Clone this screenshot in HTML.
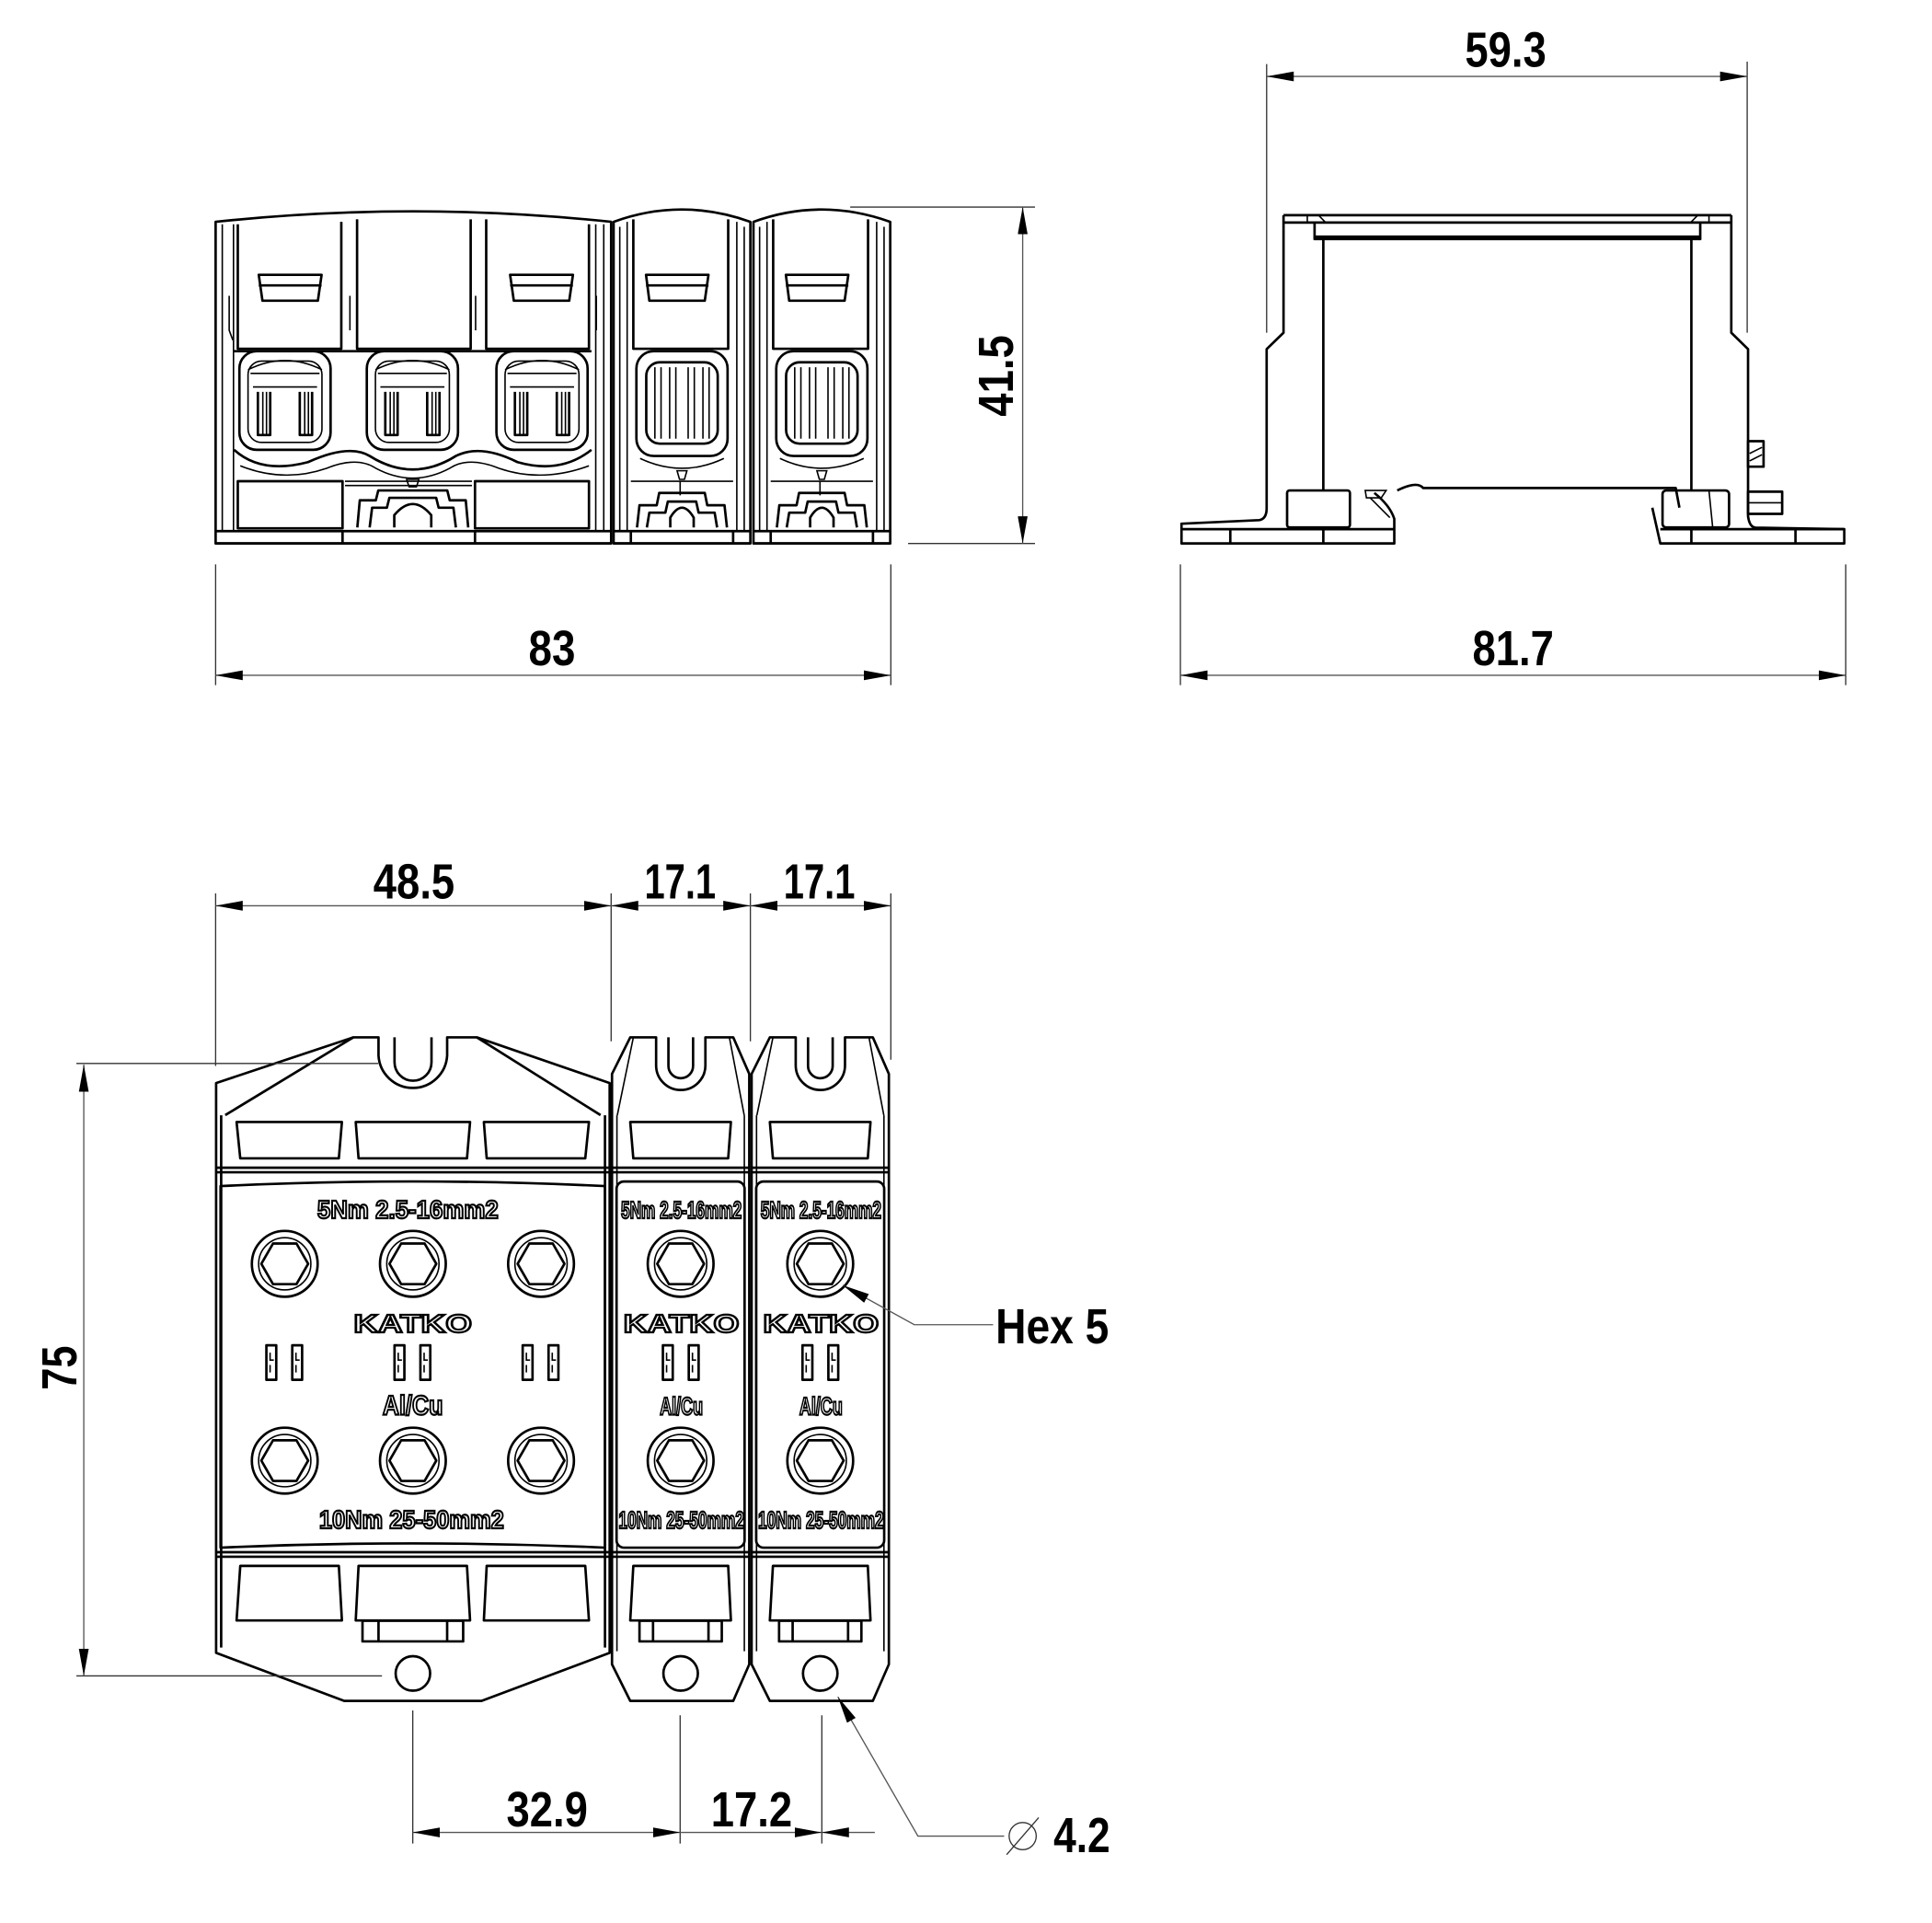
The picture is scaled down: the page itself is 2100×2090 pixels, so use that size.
<!DOCTYPE html>
<html><head><meta charset="utf-8"><style>
html,body{margin:0;padding:0;background:#fff}
svg{display:block}
.o{fill:none;stroke:#000;stroke-width:2;stroke-linejoin:round}
.t{fill:none;stroke:#000;stroke-width:1.2}
.d{fill:none;stroke:#555;stroke-width:1}
.e{fill:none;stroke:#333;stroke-width:1}
.lb{font-family:"Liberation Sans Narrow","Liberation Sans",sans-serif;font-weight:bold;font-size:40px;fill:#000}
.pt{font-family:"Liberation Sans Narrow","Liberation Sans",sans-serif;font-weight:bold;fill:#fff;stroke:#000;stroke-width:1.6}
</style></head><body>
<svg width="2100" height="2090" viewBox="0 0 1568 1560.5" xmlns="http://www.w3.org/2000/svg">
<defs>
<g id="bolt"><circle r="26.7" class="o"/><circle r="21.2" class="t"/><polygon points="-19,0 -9.5,-16.5 9.5,-16.5 19,0 9.5,16.5 -9.5,16.5" class="o"/></g>
<g id="slot"><rect x="0" y="0" width="8" height="28" class="o"/><path d="M3,6 v6 h3 M3,16 v6" class="t"/></g>
<g id="slots"><use href="#slot" x="0" y="0"/><use href="#slot" x="21" y="0"/></g>
<g id="term">
<rect x="-37" y="285" width="74" height="80" rx="14" class="o"/>
<rect x="-30" y="293" width="60" height="66" rx="11" class="t"/>
<path d="M-30,300 Q0,285 30,300 M-28,303 h56 M-26,314 h52" class="t"/>
<path d="M-22,318 v35 h10 v-35 M12,318 v35 h10 v-35" class="o"/>
<path d="M-18,318 v35 M-15,318 v35 M16,318 v35 M19,318 v35" class="t"/>
</g>
<g id="sterm">
<rect x="-37" y="285" width="74" height="85" rx="14" class="o"/>
<rect x="-29" y="294" width="58" height="66" rx="11" class="o"/>
<path d="M-22,298 v58 M-17,298 v58 M-10,298 v58 M-5,298 v58 M5,298 v58 M10,298 v58 M17,298 v58 M22,298 v58" class="t"/>
<path d="M-34,372 Q0,388 34,372 M-4,382 h8 l-2,7 h-4 z" class="t"/>
</g>
<marker id="ar" viewBox="0 0 22 8" refX="22" refY="4" markerWidth="22" markerHeight="8" markerUnits="userSpaceOnUse" orient="auto-start-reverse"><path d="M0,0 L22,4 L0,8 Z" fill="#000"/></marker>
</defs>

<!-- ============ FRONT VIEW ============ -->
<path d="M175,441 V180 Q335,163 496,180 V441 Z" class="o"/>
<path d="M180.4,182 V431 M189.5,182 V431 M483.5,182 V431 M490,182 V431" class="t"/>
<path d="M193,182 V283 H277 V180 M289.8,178 V283 H382 V178 M394.6,178 V283 H478 V182" class="o"/>
<path d="M277,180 V283 M289.8,178 V283" class="t"/>
<path d="M186,240 v28 l3,8 M284,240 v28 M386,240 v28 M484,240 v28" class="t"/>
<g class="o"><path d="M210,223 H261 L258,244 H213 Z M210,231.6 H261"/><path d="M414,223 H465 L462,244 H417 Z M414,231.6 H465"/></g>
<path d="M190,285 H480" class="o"/>
<use href="#term" x="231.3" y="0"/>
<use href="#term" x="334.7" y="0"/>
<use href="#term" x="439.9" y="0"/>
<path d="M190,365 Q212,385 250,375 Q283,360 300,370 Q335,392 370,370 Q390,360 420,375 Q455,385 480,365" class="o"/>
<path d="M195,378 Q230,392 265,380 Q290,370 305,380 Q335,396 365,380 Q380,370 405,380 Q440,392 478,378" class="t"/>
<path d="M330,389 h10 l-2,6 h-6 z" class="t"/>
<path d="M193,390.5 V428.7 H278 V390.5 Z M385.5,390.5 V428.7 H478 V390.5 Z" class="o"/>
<path d="M280,390.5 H383 M280,394 H383" class="t"/>
<path d="M290,428 L292,406 H305 L307,398 H363 L365,406 H378 L380,428 M300,428 L302,412 H314 L316,404 H354 L356,412 H368 L370,428 M320,428 V418 Q335,400 350,418 V428" class="o"/>
<path d="M175,431 H496 M175,441 H496 M278,431 V441 M385.5,431 V441" class="o"/>

<g id="fs">
<path d="M498,441 V180 Q553,160 609,180 V441 Z" class="o"/>
<path d="M503,184 V431 M509,180 V431 M598,180 V431 M604,184 V431" class="t"/>
<path d="M514,178 V283 H591 V178" class="o"/>
<path d="M524.3,223 H575 L572,244 H527 Z M524.3,231.6 H575" class="o"/>
<use href="#sterm" x="553.5" y="0"/>
<path d="M552,390 v12 M512,390.5 H595" class="t"/>
<path d="M517,428 L519,410 H533 L535,400 H572 L574,410 H588 L590,428 M525,428 L527,416 H540 L542,407 H565 L567,416 H580 L582,428 M544,428 V420 Q553.5,404 563,420 V428" class="o"/>
<path d="M498,431 H609 M498,441 H609 M512,431 V441 M595,431 V441" class="o"/>
</g>
<use href="#fs" x="113.5" y="0"/>

<!-- ============ SIDE VIEW ============ -->
<path d="M1041.7,174.6 V270 L1028,283.3 V412.5 Q1028,421 1021.9,422.1 L958.9,425 V441 H1131.6 V421 Q1128,410 1115.4,400" class="o"/>
<path d="M1405.1,174.6 V270 L1418.7,283.3 V419 Q1420,428 1424.9,428.2 L1496.8,429.4 V441 H1347.5 L1341,412" class="o"/>
<path d="M1041.7,174.6 H1405.1 M1041.7,180.6 H1405.1" class="o"/>
<path d="M1066.9,180.6 V194 H1379.9 V180.6 M1066.9,192 H1379.9" class="o"/>
<path d="M1061,174.6 v6 M1070,174.6 l6,6 M1387,174.6 v6 M1378,174.6 l-6,6" class="t"/>
<path d="M1074,194 V398 M1372.7,194 V398" class="o"/>
<path d="M1134,398 Q1150,390 1155,396 H1360 L1363,412" class="o"/>
<path d="M1108,398 h17 l-4,6 h-12 z M1112,404 L1128,420" class="t"/>
<rect x="1044.6" y="398" width="51" height="30" rx="2" class="o"/>
<rect x="1349.3" y="398" width="54" height="30" rx="3" class="o"/>
<path d="M1387,398 L1390,428" class="t"/>
<rect x="1418.7" y="399" width="27.7" height="18" class="o"/>
<path d="M1418.7,408 H1446.4" class="t"/>
<rect x="1418.7" y="358" width="12.6" height="20.7" class="o"/>
<path d="M1420,368 l10,-5 M1420,374 l10,-5" class="t"/>
<path d="M958.9,429.4 H1131.6 M1347.5,429.4 H1496.8 M998.5,429.4 V441 M1074,429.4 V441 M1372.7,429.4 V441 M1457.2,429.4 V441" class="o"/>

<!-- ============ PLAN VIEW ============ -->
<path d="M175.4,878.9 L286.8,841.8 H307.2 V856.6 A27.9,27.9 0 0 0 362.9,856.6 V841.8 H387 L494.8,878.9 V1341.3 L390.8,1380.3 H279.4 L175.4,1341.3 Z" class="o"/>
<path d="M320.2,841.8 V862 A15,15 0 0 0 350.2,862 V841.8" class="o"/>
<path d="M182.8,904.9 L286.8,841.8 M387,841.8 L487.4,904.9 M179.5,905 V1337 M491,905 V1337" class="o"/>
<g class="o">
<path d="M192,910.5 H277.5 L275,940 H195 Z M288.7,910.5 H381.5 L379,940 H291 Z M392.7,910.5 H478 L475,940 H395 Z"/>
<path d="M195,1270.7 H275 L277.5,1315 H192 Z M291,1270.7 H379 L381.5,1315 H288.7 Z M395,1270.7 H475 L478,1315 H392.7 Z"/>
</g>
<path d="M175.4,947.6 H494.8 M175.4,951.3 H494.8 M175.4,1259.6 H494.8 M175.4,1263.3 H494.8" class="o"/>
<path d="M179,962.5 Q335,955 491,962.5 V1255.9 Q335,1249 179,1255.9 Z" class="o"/>
<rect x="294.2" y="1315.3" width="81.7" height="16.7" class="o"/>
<path d="M307.2,1315.3 V1332 M362.9,1315.3 V1332" class="o"/>
<circle cx="335.1" cy="1358" r="14" class="o"/>
<use href="#bolt" x="231.1" y="1025.6"/><use href="#bolt" x="335.1" y="1025.6"/><use href="#bolt" x="439.1" y="1025.6"/>
<use href="#bolt" x="231.1" y="1185.3"/><use href="#bolt" x="335.1" y="1185.3"/><use href="#bolt" x="439.1" y="1185.3"/>
<use href="#slots" x="216.2" y="1091.7"/><use href="#slots" x="320.2" y="1091.7"/><use href="#slots" x="424.2" y="1091.7"/>
<text class="pt" x="331" y="988.5" font-size="21" text-anchor="middle" textLength="147" lengthAdjust="spacingAndGlyphs">5Nm 2.5-16mm2</text>
<text class="pt" x="335" y="1081.3" font-size="21" text-anchor="middle" textLength="96" lengthAdjust="spacingAndGlyphs">KATKO</text>
<text class="pt" x="335" y="1148" font-size="22" text-anchor="middle" textLength="49" lengthAdjust="spacingAndGlyphs">Al/Cu</text>
<text class="pt" x="334" y="1240.3" font-size="21" text-anchor="middle" textLength="150" lengthAdjust="spacingAndGlyphs">10Nm 25-50mm2</text>

<g id="ps">
<path d="M496.7,871.5 L511.5,841.8 H532.5 V864.5 A20,20 0 0 0 572.5,864.5 V841.8 H595.1 L608.1,871.5 V1350.6 L595.1,1380.3 H511.5 L496.7,1350.6 Z" class="o"/>
<path d="M542.5,841.8 V865 A10,10 0 0 0 562.5,865 V841.8" class="o"/>
<path d="M501,905 L514,842 M604,905 L592,842 M500.7,905 V1340 M604.1,905 V1340" class="t"/>
<path d="M511.5,910.5 H593.2 L591,940 H514 Z M514,1270.7 H591 L593.2,1315 H511.5 Z" class="o"/>
<path d="M496.7,947.6 H608.1 M496.7,951.3 H608.1 M496.7,1259.6 H608.1 M496.7,1263.3 H608.1" class="o"/>
<rect x="500.4" y="958.8" width="103.9" height="297.1" rx="6" class="o"/>
<rect x="519" y="1315.3" width="66.8" height="16.7" class="o"/>
<path d="M530,1315.3 V1332 M575,1315.3 V1332" class="o"/>
<circle cx="552.4" cy="1358" r="14" class="o"/>
<use href="#bolt" x="552.4" y="1025.6"/><use href="#bolt" x="552.4" y="1185.3"/>
<use href="#slots" x="538" y="1091.7"/>
<text class="pt" x="553" y="988.5" font-size="19" text-anchor="middle" textLength="98" lengthAdjust="spacingAndGlyphs">5Nm 2.5-16mm2</text>
<text class="pt" x="553" y="1081.3" font-size="21" text-anchor="middle" textLength="94" lengthAdjust="spacingAndGlyphs">KATKO</text>
<text class="pt" x="553" y="1148" font-size="20" text-anchor="middle" textLength="35" lengthAdjust="spacingAndGlyphs">Al/Cu</text>
<text class="pt" x="553" y="1240.3" font-size="19" text-anchor="middle" textLength="102" lengthAdjust="spacingAndGlyphs">10Nm 25-50mm2</text>
</g>
<use href="#ps" x="113.3" y="0"/>

<!-- ============ DIMENSIONS ============ -->
<path d="M1028,52 V270 M1418,50 V270" class="e"/>
<path d="M1028,62 H1418" class="d" marker-start="url(#ar)" marker-end="url(#ar)"/>
<text class="lb" x="1222" y="54" text-anchor="middle" textLength="66" lengthAdjust="spacingAndGlyphs">59.3</text>
<path d="M690,168 H840 M737,441 H840" class="e"/>
<path d="M830,168 V441" class="d" marker-start="url(#ar)" marker-end="url(#ar)"/>
<text class="lb" transform="translate(822,305) rotate(-90)" text-anchor="middle" textLength="66" lengthAdjust="spacingAndGlyphs">41.5</text>
<path d="M175,458 V556 M723,458 V556" class="e"/>
<path d="M175,548 H723" class="d" marker-start="url(#ar)" marker-end="url(#ar)"/>
<text class="lb" x="448" y="540" text-anchor="middle" textLength="38" lengthAdjust="spacingAndGlyphs">83</text>
<path d="M958,458 V556 M1498,458 V556" class="e"/>
<path d="M958,548 H1498" class="d" marker-start="url(#ar)" marker-end="url(#ar)"/>
<text class="lb" x="1228" y="540" text-anchor="middle" textLength="66" lengthAdjust="spacingAndGlyphs">81.7</text>
<path d="M175,725 V865 M496,725 V845 M609,725 V845 M723,725 V860" class="e"/>
<path d="M175,735 H496" class="d" marker-start="url(#ar)" marker-end="url(#ar)"/>
<path d="M496,735 H609" class="d" marker-start="url(#ar)" marker-end="url(#ar)"/>
<path d="M609,735 H723" class="d" marker-start="url(#ar)" marker-end="url(#ar)"/>
<text class="lb" x="336" y="729" text-anchor="middle" textLength="66" lengthAdjust="spacingAndGlyphs">48.5</text>
<text class="lb" x="552" y="729" text-anchor="middle" textLength="58" lengthAdjust="spacingAndGlyphs">17.1</text>
<text class="lb" x="665" y="729" text-anchor="middle" textLength="58" lengthAdjust="spacingAndGlyphs">17.1</text>
<path d="M62,863 H307 M62,1360 H310" class="e"/>
<path d="M68,864 V1360" class="d" marker-start="url(#ar)" marker-end="url(#ar)"/>
<text class="lb" transform="translate(62,1110) rotate(-90)" text-anchor="middle" textLength="36" lengthAdjust="spacingAndGlyphs">75</text>
<path d="M335,1388 V1496 M552,1392 V1496 M667,1392 V1496" class="e"/>
<path d="M335,1487 H552" class="d" marker-start="url(#ar)" marker-end="url(#ar)"/>
<path d="M552,1487 H667" class="d" marker-end="url(#ar)"/>
<path d="M667,1487 H710" class="d" marker-start="url(#ar)"/>
<text class="lb" x="444" y="1482" text-anchor="middle" textLength="66" lengthAdjust="spacingAndGlyphs">32.9</text>
<text class="lb" x="610" y="1482" text-anchor="middle" textLength="66" lengthAdjust="spacingAndGlyphs">17.2</text>
<path d="M806,1075 H742 L684,1043" class="d" marker-end="url(#ar)"/>
<text class="lb" x="808" y="1090" textLength="92" lengthAdjust="spacingAndGlyphs">Hex 5</text>
<path d="M815,1490 H745 L680,1377" class="d" marker-end="url(#ar)"/>
<circle cx="830" cy="1490" r="11" class="e" stroke-width="1.3"/>
<path d="M817,1505 L843,1475" class="e" stroke-width="1.3"/>
<text class="lb" x="855" y="1503" textLength="46" lengthAdjust="spacingAndGlyphs">4.2</text>
</svg>
</body></html>
